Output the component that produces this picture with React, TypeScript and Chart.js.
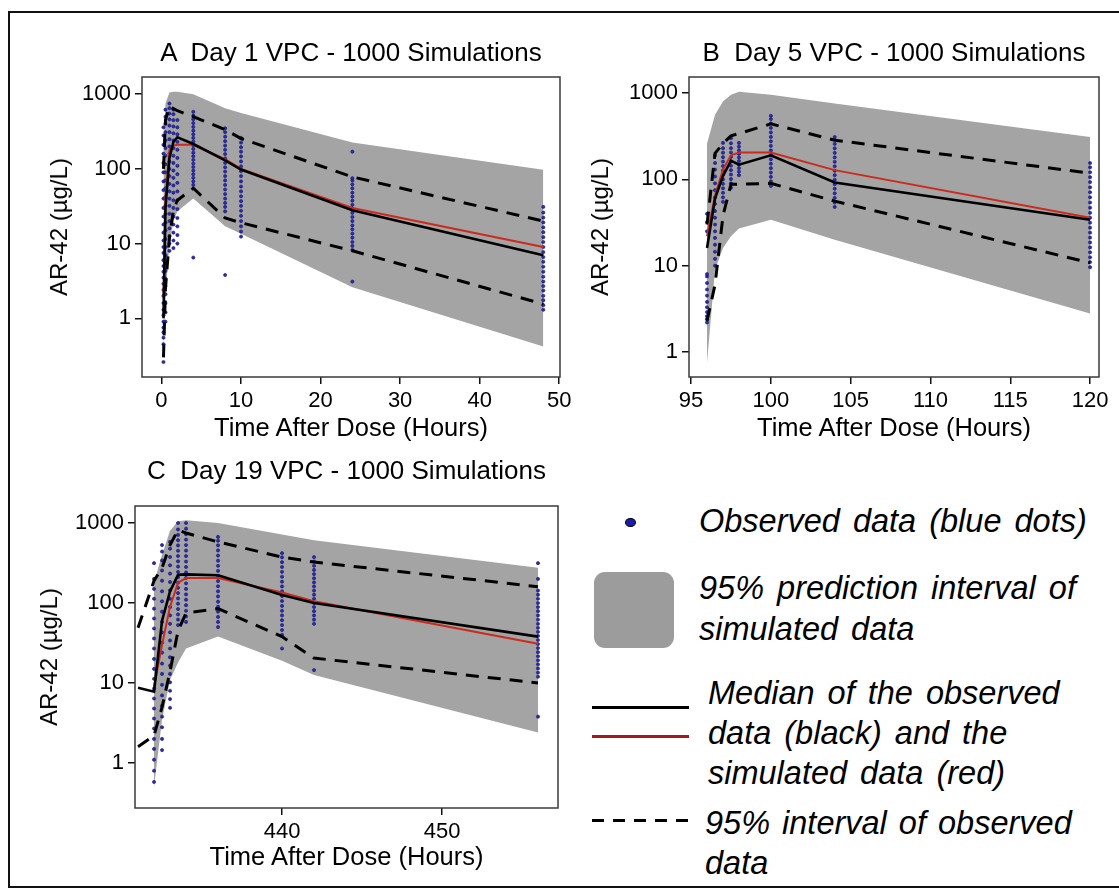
import React, { useEffect, useRef } from "react";
import { Chart, registerables } from "chart.js";

Chart.register(...registerables);

// ---------------- Panel A: Day 1 ----------------
const A_TIMES = [0.25, 0.5, 1, 1.5, 2, 4, 8, 10, 24, 48];
const A_PI_HI = [200, 750, 1050, 1080, 1080, 1000, 650, 560, 225, 97];
const A_PI_LO = [0.35, 2, 10, 20, 27, 40, 17, 13.5, 2.6, 0.42];
const A_OBS_MED = [1.0, 30, 140, 230, 265, 215, 130, 98, 28, 7];
const A_SIM_MED = [2, 40, 180, 205, 210, 210, 135, 100, 30, 9];
const A_OBS_HI = [100, 450, 690, 640, 600, 500, 335, 255, 78, 20];
const A_OBS_LO = [0.3, 2.5, 12, 28, 38, 55, 22, 19, 8, 1.55];
const A_DOT_TIMES = [0.25, 0.5, 1, 1.5, 2, 4, 8, 10, 24, 48];
const A_DOT_VALUES = [
  [0.26, 0.45, 0.55, 0.65, 0.75, 0.9, 1.1, 1.3, 1.6, 2, 2.4, 2.9, 3.5, 4.2, 5, 6, 7.5, 9, 11, 14, 18, 23, 30, 40, 52, 68, 90, 120, 160, 210, 280, 360],
  [0.9, 1.2, 1.6, 2.1, 2.7, 3.4, 4.3, 5.5, 7, 9, 11.5, 15, 19, 25, 32, 42, 55, 70, 90, 115, 150, 190, 240, 310, 400, 500, 620],
  [8, 10, 12.5, 16, 20, 25, 32, 40, 50, 63, 80, 100, 125, 160, 200, 250, 310, 380, 460, 550, 650, 750],
  [8.7, 11, 14, 18, 23, 30, 38, 48, 60, 76, 95, 120, 150, 190, 240, 300, 370, 450, 540, 620],
  [10, 13, 17, 22, 29, 38, 50, 65, 85, 110, 140, 180, 230, 290, 360, 450],
  [6.5, 61, 68, 76, 85, 95, 106, 118, 132, 148, 165, 185, 207, 232, 260, 290, 325, 365, 410, 460, 515, 580],
  [3.8, 27, 31, 35, 40, 46, 53, 61, 70, 80, 92, 105, 120, 138, 158, 180, 205, 235, 270, 310, 350],
  [12.4, 14.5, 17, 20, 23.5, 27.5, 32, 37, 43, 50, 58, 68, 80, 93, 108, 126, 147, 170, 195, 225, 260],
  [3.1, 8.2, 9.3, 10.5, 12, 13.6, 15.5, 17.5, 20, 22.7, 25.8, 29.3, 33, 37.5, 42.5, 48, 55, 62, 70, 75, 170],
  [1.3, 1.5, 1.75, 2, 2.35, 2.7, 3.1, 3.6, 4.2, 4.9, 5.7, 6.6, 7.7, 9, 10.5, 12.2, 14.2, 16.5, 19.2, 22.3, 26, 31],
];
const A_X_TICKS = [0, 10, 20, 30, 40, 50];

// ---------------- Panel B: Day 5 ----------------
const B_TIMES = [96, 96.5, 97, 97.5, 98, 100, 104, 120];
const B_PI_HI = [260, 560, 800, 960, 1040, 960, 760, 310];
const B_PI_LO = [0.75, 9, 16, 22, 27, 34, 20, 2.8];
const B_OBS_MED = [16, 60, 110, 165, 148, 190, 92, 34];
const B_SIM_MED = [22, 65, 130, 190, 205, 205, 128, 36];
const B_OBS_HI = [30, 200, 260, 320, 340, 440, 285, 118];
const B_OBS_LO = [2.3, 6, 38, 88, 88, 90, 56, 10.8];
const B_DOT_TIMES = [96, 96.5, 97, 97.5, 98, 100, 104, 120];
const B_DOT_VALUES = [
  [2.2, 2.4, 2.6, 2.9, 3.3, 3.8, 4.5, 5.3, 6.3, 7.5, 8, 25, 32, 40],
  [10, 12, 14.5, 17.5, 21, 25, 30, 36, 43, 52, 62, 75, 90, 108, 130, 155, 190],
  [55, 62, 70, 79, 89, 100, 113, 127, 143, 161, 181, 204, 230, 265],
  [80, 90, 101, 114, 128, 144, 162, 182, 205, 230, 262, 300],
  [112, 123, 135, 148, 163, 179, 197, 217, 240, 265],
  [84, 95, 107, 120, 135, 152, 171, 193, 217, 245, 276, 311, 350, 395, 445, 500, 545],
  [48, 54, 61, 69, 78, 88, 99, 112, 126, 142, 160, 180, 203, 229, 258, 290, 310],
  [9.6, 11, 12.5, 14.3, 16.3, 18.6, 21.2, 24.2, 27.6, 31.5, 36, 41, 47, 54, 62, 71, 81, 93, 106, 121, 138, 155],
];
const B_X_TICKS = [95, 100, 105, 110, 115, 120];

// ---------------- Panel C: Day 19 ----------------
const C_TIMES = [431, 432, 432.5, 433, 433.5, 434, 436, 440, 442, 456];
const C_OBS_MED = [8.7, 7.8, 60, 140, 225, 228, 222, 126, 100, 38];
const C_OBS_HI = [49, 190, 275, 530, 820, 750, 580, 375, 325, 160];
const C_OBS_LO = [1.6, 2.2, 5, 14, 45, 75, 85, 38, 20.5, 10];
const C_SIM_TIMES = [432, 432.5, 433, 433.5, 434, 436, 440, 442, 456];
const C_SIM_MED = [9, 30, 90, 180, 205, 205, 135, 105, 31];
const C_PI_TIMES = [432, 432.5, 433, 433.5, 434, 436, 440, 442, 456];
const C_PI_HI = [180, 400, 800, 1050, 1080, 1000, 720, 610, 275];
const C_PI_LO = [0.5, 3.5, 11, 18, 27, 38, 19, 12.6, 2.4];
const C_DOT_TIMES = [432, 432.5, 433, 433.5, 434, 436, 440, 442, 456];
const C_DOT_VALUES = [
  [0.58, 0.8, 1.1, 1.5, 2, 2.7, 3.6, 4.8, 6.4, 8.5, 11.3, 15, 20, 27, 36, 48, 64, 85, 113, 150, 200, 315],
  [1.45, 2, 2.8, 3.8, 5.2, 7, 9.5, 13, 17.5, 24, 32, 43, 58, 78, 105, 140, 190, 255, 340, 440, 530],
  [4.9, 6.3, 8, 10.2, 13, 16.5, 21, 27, 34, 43, 55, 70, 89, 113, 144, 183, 233, 296, 376, 478, 580],
  [53, 62, 72, 84, 98, 114, 133, 155, 180, 210, 245, 285, 332, 387, 450, 525, 610, 710, 830, 1000],
  [58, 68, 80, 94, 110, 128, 150, 176, 206, 241, 282, 330, 386, 452, 529, 620, 725, 850, 1000],
  [50, 58, 67, 78, 90, 104, 121, 140, 162, 188, 218, 252, 292, 338, 392, 454, 526, 600, 670],
  [27, 40, 46, 53, 61, 70, 80, 92, 106, 122, 140, 161, 185, 213, 245, 282, 324, 372, 420],
  [14.5, 55, 62, 70, 79, 89, 100, 113, 127, 143, 161, 181, 204, 230, 259, 292, 330, 375],
  [3.8, 12, 13.5, 15.2, 17.1, 19.2, 21.6, 24.3, 27.3, 30.7, 34.5, 38.8, 43.6, 49, 55, 62, 70, 79, 89, 100, 113, 127, 143, 200, 315],
];
const C_X_TICKS = [440, 450];

const Y_TICKS = [1, 10, 100, 1000];

// ---------------- styling / layout ----------------
const FONT = "'Liberation Sans', Arial, Helvetica, sans-serif";
const BAND = "#a4a4a4";
const RED = "#cc2a1c";
const DOT = "#2b2bb5";
const DOT_EDGE = "#16166e";
const AXW = 90;
const PADT = 30;
const PADR = 20;
const AXH = 50;

type Spec = {
  box: { l: number; t: number; r: number; b: number };
  xMin: number; xMax: number; yMin: number; yMax: number;
  xTicks: number[];
  times: number[]; obsMed: number[]; obsHi: number[]; obsLo: number[];
  simTimes: number[]; simMed: number[];
  piTimes: number[]; piHi: number[]; piLo: number[];
  dotTimes: number[]; dotValues: number[][];
};

const SPEC_A: Spec = {
  box: { l: 142, t: 77, r: 560, b: 377 },
  xMin: -2.45, xMax: 50.1, yMin: 0.1637, yMax: 1698,
  xTicks: A_X_TICKS,
  times: A_TIMES, obsMed: A_OBS_MED, obsHi: A_OBS_HI, obsLo: A_OBS_LO,
  simTimes: A_TIMES, simMed: A_SIM_MED,
  piTimes: A_TIMES, piHi: A_PI_HI, piLo: A_PI_LO,
  dotTimes: A_DOT_TIMES, dotValues: A_DOT_VALUES,
};
const SPEC_B: Spec = {
  box: { l: 689, t: 77, r: 1099, b: 377 },
  xMin: 94.87, xMax: 120.56, yMin: 0.513, yMax: 1537,
  xTicks: B_X_TICKS,
  times: B_TIMES, obsMed: B_OBS_MED, obsHi: B_OBS_HI, obsLo: B_OBS_LO,
  simTimes: B_TIMES, simMed: B_SIM_MED,
  piTimes: B_TIMES, piHi: B_PI_HI, piLo: B_PI_LO,
  dotTimes: B_DOT_TIMES, dotValues: B_DOT_VALUES,
};
const SPEC_C: Spec = {
  box: { l: 135, t: 506, r: 558, b: 808 },
  xMin: 430.81, xMax: 457.25, yMin: 0.274, yMax: 1631,
  xTicks: C_X_TICKS,
  times: C_TIMES, obsMed: C_OBS_MED, obsHi: C_OBS_HI, obsLo: C_OBS_LO,
  simTimes: C_SIM_TIMES, simMed: C_SIM_MED,
  piTimes: C_PI_TIMES, piHi: C_PI_HI, piLo: C_PI_LO,
  dotTimes: C_DOT_TIMES, dotValues: C_DOT_VALUES,
};

const boxPlugin = {
  id: "plotBox",
  afterDatasetsDraw(chart: any) {
    const { ctx, chartArea } = chart;
    const { left, top, right, bottom } = chartArea;
    ctx.save();
    ctx.strokeStyle = "#3a3a3a";
    ctx.lineWidth = 1.5;
    ctx.strokeRect(left, top, right - left, bottom - top);
    ctx.restore();
  },
};

function pts(xs: number[], ys: number[]) {
  return xs.map((x, i) => ({ x, y: ys[i] }));
}

function makeConfig(p: Spec): any {
  const dots: { x: number; y: number }[] = [];
  p.dotTimes.forEach((t, i) => p.dotValues[i].forEach((v) => dots.push({ x: t, y: v })));
  const tickFont = { family: FONT, size: 22 };
  const grid = {
    display: true,
    drawOnChartArea: false,
    drawTicks: true,
    tickLength: 7,
    color: "#111",
    lineWidth: 1.5,
  };
  return {
    type: "scatter",
    data: {
      datasets: [
        {
          type: "line", data: pts(p.piTimes, p.piHi), borderColor: "rgba(0,0,0,0)",
          borderWidth: 1, pointRadius: 0, fill: "+1", backgroundColor: BAND, order: 10, tension: 0,
        },
        {
          type: "line", data: pts(p.piTimes, p.piLo), borderColor: "rgba(0,0,0,0)",
          borderWidth: 1, pointRadius: 0, fill: false, order: 10, tension: 0,
        },
        {
          type: "scatter", data: dots, pointRadius: 1.6, backgroundColor: DOT,
          borderColor: DOT_EDGE, borderWidth: 0.6, order: 8,
        },
        {
          type: "line", data: pts(p.times, p.obsHi), borderColor: "#000", borderWidth: 3,
          borderDash: [13, 9], pointRadius: 0, fill: false, order: 6, tension: 0,
        },
        {
          type: "line", data: pts(p.times, p.obsLo), borderColor: "#000", borderWidth: 3,
          borderDash: [13, 9], pointRadius: 0, fill: false, order: 6, tension: 0,
        },
        {
          type: "line", data: pts(p.simTimes, p.simMed), borderColor: RED, borderWidth: 2,
          pointRadius: 0, fill: false, order: 4, tension: 0,
        },
        {
          type: "line", data: pts(p.times, p.obsMed), borderColor: "#000", borderWidth: 2.6,
          pointRadius: 0, fill: false, order: 2, tension: 0,
        },
      ],
    },
    options: {
      animation: false,
      responsive: false,
      maintainAspectRatio: false,
      devicePixelRatio: 1,
      events: [],
      layout: { padding: { left: 0, top: PADT, right: PADR, bottom: 0 } },
      plugins: {
        legend: { display: false },
        tooltip: { enabled: false },
        title: { display: false },
      },
      scales: {
        x: {
          type: "linear",
          min: p.xMin,
          max: p.xMax,
          afterBuildTicks: (s: any) => {
            s.ticks = p.xTicks.map((v) => ({ value: v }));
          },
          afterFit: (s: any) => {
            s.height = AXH;
          },
          ticks: {
            font: tickFont, color: "#000", padding: 4, autoSkip: false,
            maxRotation: 0, minRotation: 0, callback: (v: any) => String(v),
          },
          grid,
          border: { display: false },
        },
        y: {
          type: "logarithmic",
          min: p.yMin,
          max: p.yMax,
          afterBuildTicks: (s: any) => {
            s.ticks = Y_TICKS.map((v) => ({ value: v }));
          },
          afterFit: (s: any) => {
            s.width = AXW;
          },
          ticks: {
            font: tickFont, color: "#000", padding: 4, autoSkip: false,
            callback: (v: any) => String(v),
          },
          grid,
          border: { display: false },
        },
      },
    },
    plugins: [boxPlugin],
  };
}

function Panel({ spec }: { spec: Spec }) {
  const ref = useRef<HTMLCanvasElement>(null);
  useEffect(() => {
    const chart = new Chart(ref.current as HTMLCanvasElement, makeConfig(spec));
    return () => chart.destroy();
  }, [spec]);
  const { l, t, r, b } = spec.box;
  const w = r - l + AXW + PADR;
  const h = b - t + PADT + AXH;
  return (
    <canvas
      ref={ref}
      width={w}
      height={h}
      style={{ position: "absolute", left: l - AXW, top: t - PADT, width: w, height: h }}
    />
  );
}

function Txt(props: {
  x: number; y: number; size: number; text: string;
  italic?: boolean; left?: boolean; rotate?: boolean; spacing?: number;
}) {
  const { x, y, size, text, italic, left, rotate, spacing } = props;
  let transform = left ? "translateY(-50%)" : "translate(-50%, -50%)";
  if (rotate) transform += " rotate(-90deg)";
  return (
    <div
      style={{
        position: "absolute",
        left: x,
        top: y,
        transform,
        fontFamily: FONT,
        fontSize: size,
        fontStyle: italic ? "italic" : "normal",
        lineHeight: 1,
        whiteSpace: "pre",
        color: "#000",
        wordSpacing: spacing || 0,
      }}
    >
      {text}
    </div>
  );
}

const LEG = 32.5;
const TITLE = 26;
const XTITLE = 25.5;
const YTITLE = 24;

export default function App() {
  const boxA = SPEC_A.box, boxB = SPEC_B.box, boxC = SPEC_C.box;
  const cx = (bx: { l: number; r: number }) => (bx.l + bx.r) / 2;
  const cy = (bx: { t: number; b: number }) => (bx.t + bx.b) / 2;
  return (
    <div
      style={{
        position: "fixed",
        left: 0,
        top: 0,
        width: 1119,
        height: 891,
        overflow: "hidden",
        background: "#fff",
      }}
    >
      <div
        style={{
          position: "absolute", left: 8, top: 11, width: 1130, height: 877,
          border: "2px solid #111", boxSizing: "border-box",
        }}
      />
      <Panel spec={SPEC_A} />
      <Panel spec={SPEC_B} />
      <Panel spec={SPEC_C} />

      <Txt x={cx(boxA)} y={52} size={TITLE} text={"A  Day 1 VPC - 1000 Simulations"} />
      <Txt x={cx(boxB)} y={52} size={TITLE} text={"B  Day 5 VPC - 1000 Simulations"} />
      <Txt x={cx(boxC)} y={470} size={TITLE} text={"C  Day 19 VPC - 1000 Simulations"} />

      <Txt x={59} y={cy(boxA)} size={YTITLE} text={"AR-42 (µg/L)"} rotate />
      <Txt x={600} y={cy(boxB)} size={YTITLE} text={"AR-42 (µg/L)"} rotate />
      <Txt x={49} y={cy(boxC)} size={YTITLE} text={"AR-42 (µg/L)"} rotate />

      <Txt x={cx(boxA)} y={428} size={XTITLE} text={"Time After Dose (Hours)"} />
      <Txt x={cx(boxB)} y={428} size={XTITLE} text={"Time After Dose (Hours)"} />
      <Txt x={cx(boxC)} y={857} size={XTITLE} text={"Time After Dose (Hours)"} />

      {/* legend */}
      <div
        style={{
          position: "absolute", left: 625, top: 518, width: 9, height: 7,
          borderRadius: "50%", background: "#1a1ab0", border: "1px solid #000",
        }}
      />
      <Txt x={699} y={521} size={LEG} italic left spacing={4} text={"Observed data (blue dots)"} />
      <div
        style={{
          position: "absolute", left: 594, top: 572, width: 80, height: 76,
          borderRadius: 11, background: "#9c9c9c",
        }}
      />
      <Txt x={699} y={588} size={LEG} italic left spacing={4} text={"95% prediction interval of"} />
      <Txt x={699} y={629} size={LEG} italic left spacing={4} text={"simulated data"} />
      <div style={{ position: "absolute", left: 592, top: 706, width: 97, height: 3, background: "#000" }} />
      <div style={{ position: "absolute", left: 592, top: 735, width: 97, height: 3, background: "#a01c1c" }} />
      <Txt x={708} y={693} size={LEG} italic left spacing={4} text={"Median of the observed"} />
      <Txt x={708} y={733} size={LEG} italic left spacing={4} text={"data (black) and the"} />
      <Txt x={708} y={773} size={LEG} italic left spacing={4} text={"simulated data (red)"} />
      <div
        style={{
          position: "absolute", left: 592, top: 819, width: 97, height: 3,
          background: "repeating-linear-gradient(to right, #000 0px, #000 12px, transparent 12px, transparent 21px)",
        }}
      />
      <Txt x={705} y={823} size={LEG} italic left spacing={3} text={"95% interval of observed"} />
      <Txt x={705} y={863} size={LEG} italic left text={"data"} />
    </div>
  );
}
